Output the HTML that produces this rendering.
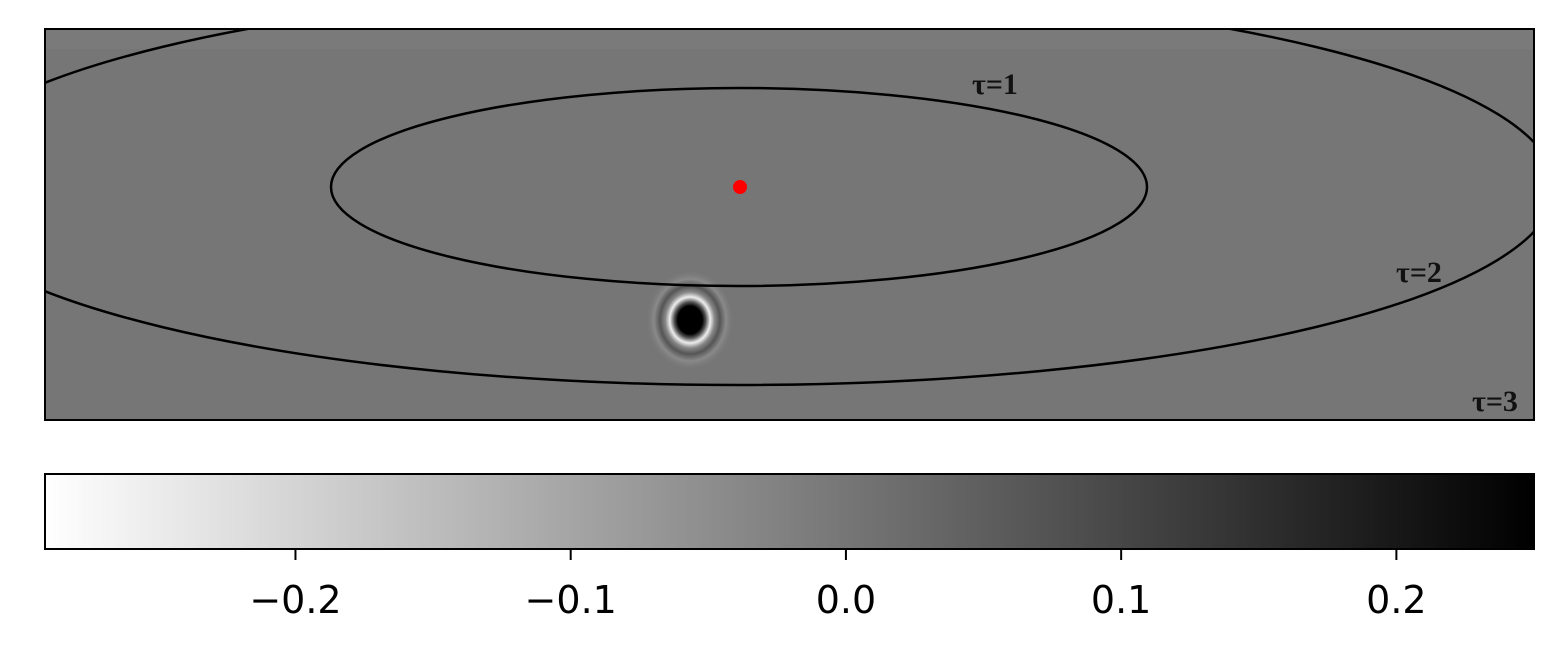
<!DOCTYPE html>
<html><head><meta charset="utf-8"><style>
body{margin:0;background:#fff;width:1562px;height:651px;overflow:hidden}
svg{display:block}
.tk{font-family:"DejaVu Sans","Liberation Sans",sans-serif}
.tau{font-family:"Liberation Serif",serif;font-weight:bold;font-size:30px}
</style></head><body>
<svg width="1562" height="651">
<defs>
<clipPath id="pc"><rect x="45" y="29" width="1489" height="391"/></clipPath>
<linearGradient id="cb" x1="0" x2="1"><stop offset="0" stop-color="#fff"/><stop offset="1" stop-color="#000"/></linearGradient>
<radialGradient id="blob" cx="0.5" cy="0.5" r="0.5">
<stop offset="0" stop-color="#000"/><stop offset="0.28" stop-color="#000"/><stop offset="0.36" stop-color="#555"/><stop offset="0.46" stop-color="#eee"/><stop offset="0.56" stop-color="#888"/><stop offset="0.68" stop-color="#555"/><stop offset="0.82" stop-color="#8a8a8a"/><stop offset="1" stop-color="#777" stop-opacity="0"/>
</radialGradient>
</defs>
<g clip-path="url(#pc)">
<rect x="45" y="29" width="1489" height="391" fill="#767676"/>
<rect x="45" y="29" width="1489" height="20" fill="#7c7c7c" opacity="0.8"/>
<ellipse cx="690" cy="320" rx="44" ry="50" fill="url(#blob)"/>
<ellipse cx="739" cy="187" rx="408" ry="99" fill="none" stroke="#000" stroke-width="2.5"/>
<ellipse cx="739" cy="187" rx="816" ry="198" fill="none" stroke="#000" stroke-width="2.5"/>
<ellipse cx="739" cy="187" rx="1281" ry="297" fill="none" stroke="#000" stroke-width="2.5"/>
<circle cx="740" cy="187" r="7" fill="#f00"/>
</g>
<rect x="45" y="29" width="1489" height="391" fill="none" stroke="#000" stroke-width="2"/>
<g fill="#111">
<text class="tau" x="972" y="94">τ=1</text>
<text class="tau" x="1396" y="282">τ=2</text>
<text class="tau" x="1472" y="411">τ=3</text>
</g>
<rect x="45" y="474" width="1489" height="75" fill="url(#cb)" stroke="#000" stroke-width="2"/>
<g id="ticks"></g>
</svg>
<script>
const tickVals=[-0.2,-0.1,0.0,0.1,0.2];
const tickLabels=["\u22120.2","\u22120.1","0.0","0.1","0.2"];
const vmin=-0.291, vmax=0.25;
const xs=v=>45+(v-vmin)/(vmax-vmin)*1489;
const g=document.getElementById('ticks');
tickVals.forEach((v,i)=>{
 const x=xs(v);
 const l=document.createElementNS('http://www.w3.org/2000/svg','line');
 
 
 l.setAttribute('x1',x);l.setAttribute('x2',x);l.setAttribute('y1',549);l.setAttribute('y2',560);
 l.setAttribute('stroke','#000');l.setAttribute('stroke-width','2');g.appendChild(l);
 const t=document.createElementNS('http://www.w3.org/2000/svg','text');
 
 
 t.setAttribute('class','tk');
 t.setAttribute('x',x);t.setAttribute('y',613);t.setAttribute('text-anchor','middle');
 t.setAttribute('font-size','38');t.textContent=tickLabels[i];g.appendChild(t);
});
</script>
</body></html>
